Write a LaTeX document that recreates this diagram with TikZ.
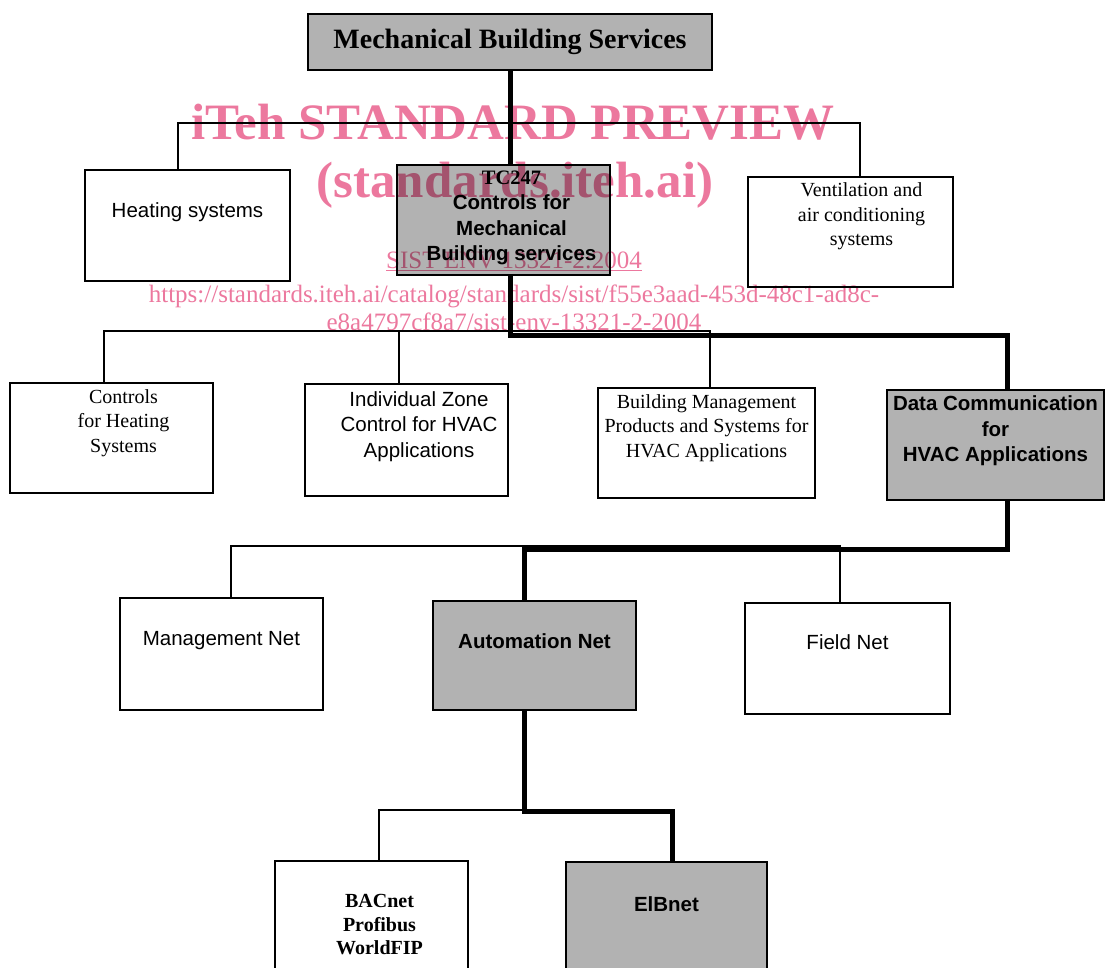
\documentclass[tikz,border=0pt]{standalone}
\usepackage{fontspec}
\setmainfont{Liberation Serif}
\setsansfont{Liberation Sans}
\usetikzlibrary{positioning}
\definecolor{wmpink}{RGB}{236,120,158}

\begin{document}
\begin{tikzpicture}[
    x=1pt, y=-1pt,
    box/.style={draw, line width=1.7pt, inner sep=0pt, fill=white},
    shaded/.style={box, fill=black!30},
    dims/.style 2 args={minimum width=#1pt, minimum height=#2pt},
    sf/.style={font=\fontsize{20.5}{25.5}\selectfont\sffamily, align=center, inner sep=0pt},
    sfb/.style={sf, font=\fontsize{20.5}{25.5}\selectfont\sffamily\bfseries},
    rm/.style={font=\fontsize{20}{24.5}\selectfont\rmfamily, align=center, inner sep=0pt},
    rmb/.style={rm, font=\fontsize{20}{23.5}\selectfont\rmfamily\bfseries},
    wire/.style={line width=1.2pt},
    trunk/.style={line width=5pt},
    wm/.style={text=wmpink, inner sep=0pt, align=center}
  ]
  \useasboundingbox (0,0) rectangle (1105,967);
  \node[shaded, dims={404}{56}, font=\fontsize{28}{30}\selectfont\bfseries]
    (msb) at (510,42) {Mechanical Building Services};
  % second level
  \node[box, dims={205}{111}, label={[sf, yshift=13.5pt]center:Heating systems}]
    (heat) at (187.5,225.5) {};
  \node[shaded, dims={213}{110}, label={[sfb, xshift=8pt, yshift=2pt]center:%
    {\rmfamily TC247}\\Controls for\\Mechanical\\Building services}]
    (tc) at (503.5,220) {};
  \node[box, dims={205}{110}, label={[rm, xshift=11pt, yshift=15.5pt]center:%
    Ventilation and\\air conditioning\\systems}]
    (vent) at (850.5,232) {};
  % third level
  \node[box, dims={203}{110}, label={[rm, xshift=12pt, yshift=15pt]center:%
    Controls\\for Heating\\Systems}]
    (ctrl) at (111.5,438) {};
  \node[box, dims={203}{112}, label={[sf, xshift=12.5pt, yshift=13.5pt]center:%
    Individual Zone\\Control for HVAC\\Applications}]
    (izc) at (406.5,440) {};
  \node[box, dims={217}{110}, label={[rm, yshift=15pt]center:%
    Building Management\\Products and Systems for\\HVAC Applications}]
    (bms) at (706.5,443) {};
  \node[shaded, dims={217}{110}, label={[sfb, yshift=14pt]center:%
    Data Communication\\for\\HVAC Applications}]
    (dc) at (995.5,445) {};
  % nets
  \node[box, dims={203}{112}, label={[sf, yshift=13pt]center:Management Net}]
    (mnet) at (221.5,654) {};
  \node[shaded, dims={203}{109}, label={[sfb, yshift=14.5pt]center:Automation Net}]
    (anet) at (534.5,655.5) {};
  \node[box, dims={205}{111}, label={[sf, yshift=16.5pt]center:Field Net}]
    (fnet) at (847.5,658.5) {};
  % protocols
  \node[box, dims={193}{128}, label={[rmb, xshift=8pt]center:%
    BACnet\\Profibus\\WorldFIP}]
    (bac) at (371.5,925) {};
  \node[shaded, dims={201}{128}, label={[sfb, yshift=22pt]center:ElBnet}]
    (elb) at (666.5,926) {};

  \coordinate (busA) at (178,123);
  \coordinate (busB) at (860,123);
  \coordinate (busC) at (104,331);
  \coordinate (busD) at (710,331);
  \coordinate (tapizc) at (399,331);
  \coordinate (busE) at (231,546);
  \coordinate (busF) at (840,546);
  \coordinate (busG) at (379,810);
  \coordinate (dcjoin) at (1007,335);
  \coordinate (anjoin) at (524,549);
  \coordinate (eljoin) at (672,811);

  \draw[wire] (heat.north -| busA) -- (busA) -- (busB) -- (vent.north -| busB);
  \draw[wire] (ctrl.north -| busC) -- (busC) -- (busD) -- (bms.north -| busD);
  \draw[wire] (tapizc) -- (izc.north -| tapizc);
  \draw[wire] (mnet.north -| busE) -- (busE) -- (busF) -- (fnet.north -| busF);
  \draw[wire] (bac.north -| busG) -- (busG) -- (anjoin |- busG);

  \draw[trunk] (msb.south) -- (msb.south |- tc.north);
  \draw[trunk] (tc.south -| msb.south) |- (dcjoin) -- (dc.north -| dcjoin);
  \draw[trunk] (dc.south -| dcjoin) |- (anjoin) -- (anet.north -| anjoin);
  \draw[trunk] (anet.south -| anjoin) |- (eljoin) -- (elb.north -| eljoin);

  % watermark
  \begin{scope}[blend mode=multiply]
    \node[wm, font=\fontsize{51}{52}\selectfont\bfseries] (wm1) at (513,122)
      {iTeh STANDARD PREVIEW};
    \node[wm, font=\fontsize{51}{52}\selectfont\bfseries] (wm2) at (515,185)
      {(standards.iteh.ai)};
    \node[wm, font=\fontsize{25}{26}\selectfont] (wm3) at (514,261)
      {\underline{SIST ENV 13321-2:2004}};
    \node[wm, font=\fontsize{25}{26}\selectfont] (wm4) at (514,296)
      {https://standards.iteh.ai/catalog/standards/sist/f55e3aad-453d-48c1-ad8c-};
    \node[wm, font=\fontsize{25}{26}\selectfont] (wm5) at (514,322)
      {e8a4797cf8a7/sist-env-13321-2-2004};
  \end{scope}
\end{tikzpicture}
\end{document}
